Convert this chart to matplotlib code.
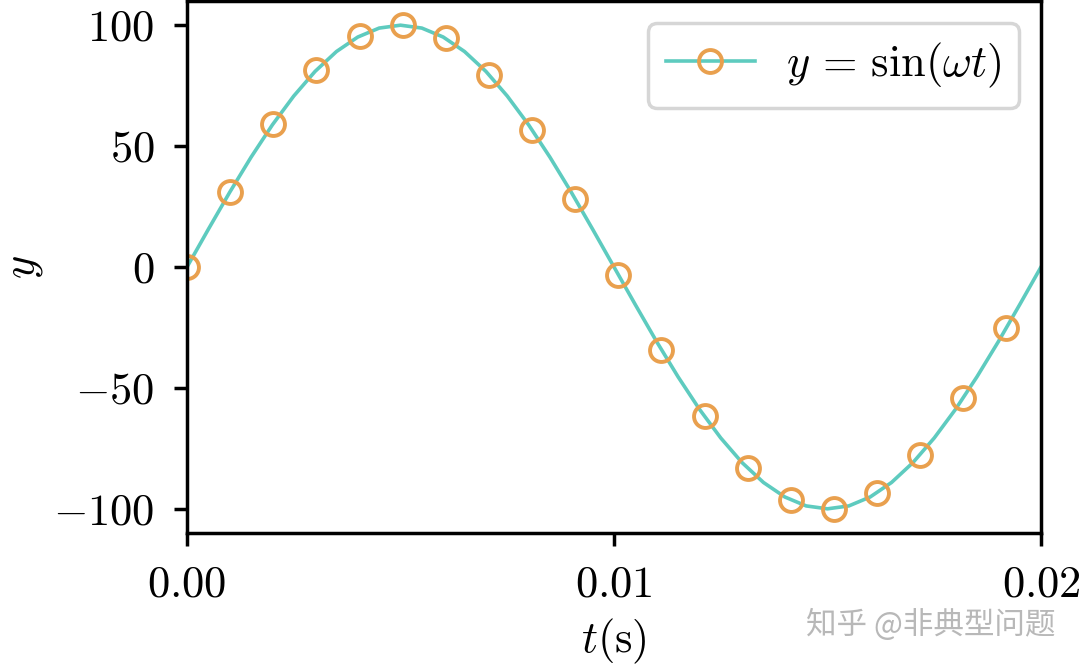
import matplotlib
matplotlib.use("Agg")
import matplotlib.pyplot as plt

# curva (muestreo cada 0.0005 s)
t_line = [0.0000, 0.0005, 0.0010, 0.0015, 0.0020, 0.0025, 0.0030, 0.0035, 0.0040, 0.0045,
          0.0050, 0.0055, 0.0060, 0.0065, 0.0070, 0.0075, 0.0080, 0.0085, 0.0090, 0.0095,
          0.0100, 0.0105, 0.0110, 0.0115, 0.0120, 0.0125, 0.0130, 0.0135, 0.0140, 0.0145,
          0.0150, 0.0155, 0.0160, 0.0165, 0.0170, 0.0175, 0.0180, 0.0185, 0.0190, 0.0195,
          0.0200]
y_line = [0.0, 15.6, 30.9, 45.4, 58.8, 70.7, 80.9, 89.1, 95.1, 98.8,
          100.0, 98.8, 95.1, 89.1, 80.9, 70.7, 58.8, 45.4, 30.9, 15.6,
          0.0, -15.6, -30.9, -45.4, -58.8, -70.7, -80.9, -89.1, -95.1, -98.8,
          -100.0, -98.8, -95.1, -89.1, -80.9, -70.7, -58.8, -45.4, -30.9, -15.6,
          0.0]

# marcadores
t_mark = [0.00000, 0.00101, 0.00202, 0.00303, 0.00404, 0.00505, 0.00606, 0.00707, 0.00808, 0.00909,
          0.01010, 0.01111, 0.01212, 0.01313, 0.01414, 0.01515, 0.01616, 0.01717, 0.01818, 0.01919]
y_mark = [0.0, 31.2, 59.3, 81.5, 95.5, 100.0, 94.5, 79.6, 56.7, 28.2,
          -3.2, -34.2, -61.8, -83.3, -96.4, -99.9, -93.4, -77.6, -54.1, -25.1]

x_ticks = [0.0, 0.01, 0.02]
x_ticklabels = [r"$0.00$", r"$0.01$", r"$0.02$"]
y_ticks = [-100, -50, 0, 50, 100]
y_ticklabels = [r"$-100$", r"$-50$", r"$0$", r"$50$", r"$100$"]

line_color = "#5ecbbf"
mark_color = "#e9a04e"

plt.rcParams["font.family"] = "serif"
plt.rcParams["font.serif"] = ["cmr10"]
plt.rcParams["mathtext.fontset"] = "cm"
plt.rcParams["axes.unicode_minus"] = False

fs = 32
lw = 2.6
fig = plt.figure(figsize=(10.8, 6.65), dpi=100)
ax = fig.add_axes([187 / 1080, 132 / 665, 854 / 1080, 532 / 665])

ax.plot(t_line, y_line, color=line_color, lw=lw)
ax.plot(t_mark, y_mark, ls="none", marker="o", ms=16.5, mfc="none",
        mec=mark_color, mew=2.8)
ax.plot([], [], color=line_color, lw=lw, marker="o", ms=16.5, mfc="none",
        mec=mark_color, mew=2.8, label=r"$y\,=\,\sin(\omega t)$")

ax.set_xlim(0, 0.02)
ax.set_ylim(-110, 110)
ax.set_xticks(x_ticks)
ax.set_xticklabels(x_ticklabels)
ax.set_yticks(y_ticks)
ax.set_yticklabels(y_ticklabels)
ax.tick_params(labelsize=fs, length=9.5, width=2.5, pad=14)
for s in ax.spines.values():
    s.set_linewidth(2.5)

ax.set_xlabel(r"$t(\mathrm{s})$", fontsize=fs, labelpad=8)
ax.set_ylabel(r"$y$", fontsize=fs, labelpad=6)

leg = ax.legend(loc="upper right", fontsize=fs, framealpha=0.8,
                edgecolor="#cccccc", borderaxespad=0.5, handletextpad=0.7)
leg.get_frame().set_linewidth(2.5)

fig.text(0.977, 0.06, "知乎 @非典型问题", family=["Noto Sans CJK SC", "DejaVu Sans"],
         fontsize=22, color="#b8b8b8", ha="right", va="center")

fig.savefig("out.png", dpi=100)
